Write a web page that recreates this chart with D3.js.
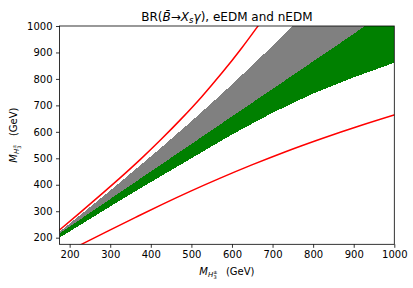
<!DOCTYPE html>
<html><head><meta charset="utf-8">
<script src="https://cdn.jsdelivr.net/npm/d3@7"></script>
<style>
body{margin:0;background:#fff}
text{font-family:"DejaVu Sans",sans-serif;fill:#000}
</style></head><body>
<svg id="c" width="413" height="288"></svg>
<script>
// ---- data (GeV) ----
const xTicks = [200,300,400,500,600,700,800,900,1000];
const yTicks = [200,300,400,500,600,700,800,900,1000];
// upper red curve
const redUpX = [150,175,225,275,325,375,425,475,525,575,625,665,690];
const redUpY = [197,229,294,360,427,497,571,649,732,822,919,1002,1055];
// lower red curve (mirror of the upper one)
const redLoX = [197,229,294,360,427,497,571,649,732,822,919,1002];
const redLoY = [150,175,225,275,325,375,425,475,525,575,625,665];
// gray band upper edge
const grayTopX = [175,300,423,500,571,620,700,753,800,1000];
const grayTopY = [222,378,537,640,738,808,925,1005,1080,1400];
// green band upper edge (gray/green boundary)
const greenTopX = [175,300,423,500,571,620,700,768,850,928,1000];
const greenTopY = [216,346,474,554,628,679,762,833,918,1000,1075];
// green band lower edge
const greenBotX = [175,300,400,500,600,700,800,900,1000];
const greenBotY = [200,318,410,500,590,672,745,806,861];

const W=413,H=288, L=59.5, R=394.3, T=26, B=244.3;
const svg=d3.select("#c");
const x=d3.scaleLinear().domain([175,1000]).range([L,R]);
const y=d3.scaleLinear().domain([175,1000]).range([B,T]);

svg.append("defs").append("clipPath").attr("id","clip")
  .append("rect").attr("x",L).attr("y",T).attr("width",R-L).attr("height",B-T);
const g=svg.append("g").attr("clip-path","url(#clip)");

const mk=(xs,ys)=>d3.scaleLinear().domain(xs).range(ys).clamp(false);
const fGT=mk(grayTopX,grayTopY), fGrT=mk(greenTopX,greenTopY), fGrB=mk(greenBotX,greenBotY);
const xs=d3.range(175,1001,2.5);

const area=d3.area().x(d=>x(d[0])).y0(d=>y(d[1])).y1(d=>y(d[2])).curve(d3.curveMonotoneX);
g.append("path").datum(xs.map(v=>[v,fGrT(v),fGT(v)]))
 .attr("d",area).attr("fill","#808080").attr("shape-rendering","crispEdges");
g.append("path").datum(xs.map(v=>[v,fGrB(v),fGrT(v)]))
 .attr("d",area).attr("fill","#008000").attr("shape-rendering","crispEdges");

const line=d3.line().x(d=>x(d[0])).y(d=>y(d[1])).curve(d3.curveMonotoneX);
g.append("path").datum(redUpX.map((v,i)=>[v,redUpY[i]])).attr("d",line)
 .attr("fill","none").attr("stroke","#ff0000").attr("stroke-width",1.5);
g.append("path").datum(redLoX.map((v,i)=>[v,redLoY[i]])).attr("d",line)
 .attr("fill","none").attr("stroke","#ff0000").attr("stroke-width",1.5);

// axes
const xa=svg.append("g").attr("transform",`translate(0,${B})`)
 .call(d3.axisBottom(x).tickValues(xTicks).tickFormat(d3.format("d")).tickSize(3.5).tickPadding(3.5));
const ya=svg.append("g").attr("transform",`translate(${L},0)`)
 .call(d3.axisLeft(y).tickValues(yTicks).tickFormat(d3.format("d")).tickSize(3.5).tickPadding(3.5));
[xa,ya].forEach(a=>{a.select(".domain").remove();
 a.selectAll("text").style("font-family","DejaVu Sans").style("font-size","10px");
 a.selectAll("line").attr("stroke","#000").attr("stroke-width",0.8);});
svg.append("rect").attr("x",L).attr("y",T).attr("width",R-L).attr("height",B-T)
 .attr("fill","none").attr("stroke","#000").attr("stroke-width",0.8);

// title
const t=svg.append("text").attr("x",(L+R)/2).attr("y",21).attr("text-anchor","middle").style("font-size","12px");
t.append("tspan").text("BR(");
t.append("tspan").style("font-style","italic").text("B\u0304");
t.append("tspan").text("\u2192");
t.append("tspan").style("font-style","italic").text("X");
t.append("tspan").style("font-style","italic").style("font-size","8.5px").attr("dy",2).text("s");
t.append("tspan").style("font-style","italic").attr("dy",-2).text("\u03b3");
t.append("tspan").text("), eEDM and nEDM");

function massLabel(sel){
  sel.append("tspan").style("font-style","italic").text("M");
  sel.append("tspan").style("font-style","italic").style("font-size","7px").attr("dy",2).text("H");
  sel.append("tspan").style("font-size","5px").attr("dy",-3.5).text("\u00b1");
  sel.append("tspan").style("font-size","5px").attr("dx",-4).attr("dy",5.5).text("3");
  sel.append("tspan").attr("dx",3).attr("dy",-4).text("  (GeV)");
}
const xl=svg.append("text").attr("x",(L+R)/2).attr("y",275).attr("text-anchor","middle").style("font-size","10px").attr("xml:space","preserve");
massLabel(xl);
const yl=svg.append("text").attr("transform",`translate(17,${(T+B)/2}) rotate(-90)`).attr("text-anchor","middle").style("font-size","10px").attr("xml:space","preserve");
massLabel(yl);
</script></body></html>
